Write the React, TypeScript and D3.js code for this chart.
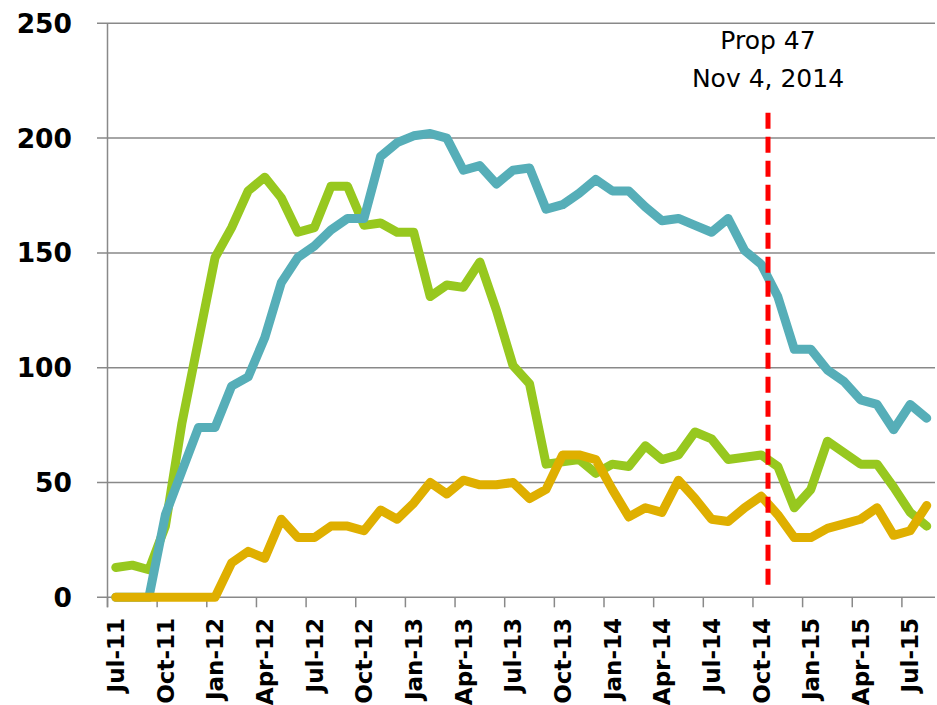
import React from "react";
import * as d3 from "d3";

// monthly categories, Jul-11 .. Aug-15
const months = [
  "Jul-11", "Aug-11", "Sep-11", "Oct-11", "Nov-11", "Dec-11",
  "Jan-12", "Feb-12", "Mar-12", "Apr-12", "May-12", "Jun-12",
  "Jul-12", "Aug-12", "Sep-12", "Oct-12", "Nov-12", "Dec-12",
  "Jan-13", "Feb-13", "Mar-13", "Apr-13", "May-13", "Jun-13",
  "Jul-13", "Aug-13", "Sep-13", "Oct-13", "Nov-13", "Dec-13",
  "Jan-14", "Feb-14", "Mar-14", "Apr-14", "May-14", "Jun-14",
  "Jul-14", "Aug-14", "Sep-14", "Oct-14", "Nov-14", "Dec-14",
  "Jan-15", "Feb-15", "Mar-15", "Apr-15", "May-15", "Jun-15",
  "Jul-15", "Aug-15",
];

const greenValues = [
  13, 14, 12, 31, 76, 112, 148, 161, 177, 183, 174, 159,
  161, 179, 179, 162, 163, 159, 159, 131, 136, 135, 146, 125,
  101, 93, 58, 59, 60, 54, 58, 57, 66, 60, 62, 72,
  69, 60, 61, 62, 57, 39, 47, 68, 63, 58, 58, 48,
  37, 31,
];

const blueValues = [
  0, 0, 0, 36, 55, 74, 74, 92, 96, 113, 137, 148,
  153, 160, 165, 165, 192, 198, 201, 202, 200, 186, 188, 180,
  186, 187, 169, 171, 176, 182, 177, 177, 170, 164, 165, 162,
  159, 165, 151, 145, 131, 108, 108, 99, 94, 86, 84, 73,
  84, 78,
];

const orangeValues = [
  0, 0, 0, 0, 0, 0, 0, 15, 20, 17, 34, 26,
  26, 31, 31, 29, 38, 34, 41, 50, 45, 51, 49, 49,
  50, 43, 47, 62, 62, 60, 47, 35, 39, 37, 51, 43,
  34, 33, 39, 44, 36, 26, 26, 30, 32, 34, 39, 27,
  29, 40,
];

const yTicks = [0, 50, 100, 150, 200, 250];
const propMonth = "Nov-14";
const propLabel = ["Prop 47", "Nov 4, 2014"];

const width = 937;
const height = 705;

export default function App() {
  const x = d3.scaleBand().domain(months).range([107.5, 935]).paddingInner(0);
  const y = d3.scaleLinear().domain([0, 250]).range([597.3, 23.3]);
  const bw = x.bandwidth();

  const line = d3
    .line<number>()
    .x((_, i) => (x(months[i]) as number) + bw / 2)
    .y((d) => y(d));

  const series = [
    { name: "green", color: "#97C81F", values: greenValues },
    { name: "blue", color: "#56AEB8", values: blueValues },
    { name: "orange", color: "#DFAF00", values: orangeValues },
  ];

  const tickMonths = months.filter((_, i) => i % 3 === 0);
  const propX = (x(propMonth) as number) - 1.5;

  return (
    <svg
      width={width}
      height={height}
      style={{ position: "absolute", left: 0, top: 0, background: "#fff" }}
    >
      {/* gridlines + y labels */}
      {yTicks.map((t) => (
        <g key={t}>
          <line x1={97} x2={935} y1={y(t)} y2={y(t)} stroke="#898989" strokeWidth={1.5} />
          <text
            x={72}
            y={y(t)}
            dy="0.36em"
            textAnchor="end"
            fontFamily="DejaVu Sans"
            fontWeight="bold"
            fontSize={26.5}
          >
            {t}
          </text>
        </g>
      ))}
      {/* y axis */}
      <line x1={107.5} x2={107.5} y1={y(250)} y2={y(0) + 10} stroke="#898989" strokeWidth={1.5} />
      {/* x ticks and labels */}
      {tickMonths.map((m) => {
        const x0 = x(m) as number;
        return (
          <g key={m}>
            <line x1={x0} x2={x0} y1={y(0)} y2={y(0) + 10} stroke="#898989" strokeWidth={1.5} />
            <text
              transform={`translate(${x0 + bw / 2},618) rotate(-90)`}
              dy="0.36em"
              textAnchor="end"
              fontFamily="DejaVu Sans"
              fontWeight="bold"
              fontSize={23}
            >
              {m}
            </text>
          </g>
        );
      })}
      {/* series */}
      {series.map((s) => (
        <path
          key={s.name}
          d={line(s.values) || ""}
          fill="none"
          stroke={s.color}
          strokeWidth={9}
          strokeLinejoin="round"
          strokeLinecap="round"
        />
      ))}
      {/* Prop 47 marker */}
      <line
        x1={propX}
        x2={propX}
        y1={y(211)}
        y2={y(5)}
        stroke="#FF0000"
        strokeWidth={5}
        strokeDasharray="16,8"
      />
      {propLabel.map((t, i) => (
        <text
          key={t}
          x={propX}
          y={49 + i * 38}
          textAnchor="middle"
          fontFamily="DejaVu Sans"
          fontSize={25}
        >
          {t}
        </text>
      ))}
    </svg>
  );
}
